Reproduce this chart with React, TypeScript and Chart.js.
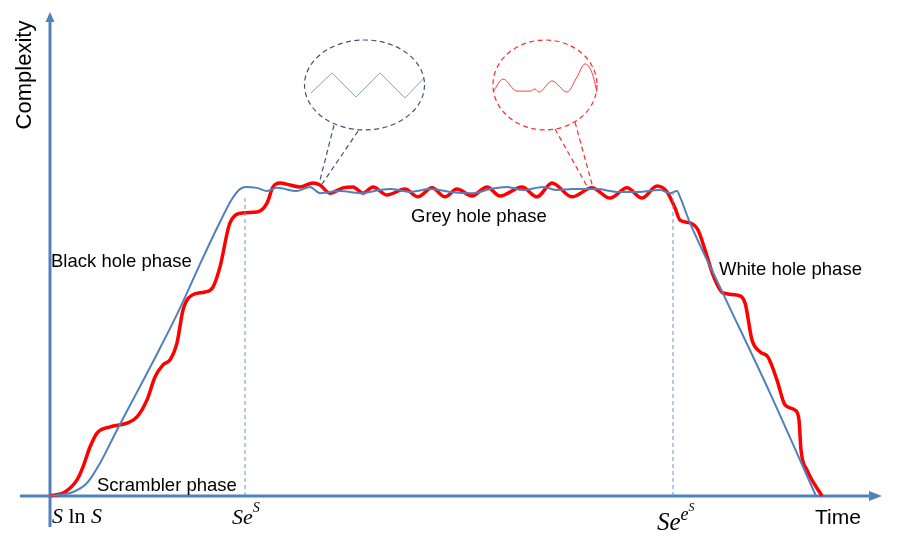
import { useEffect, useRef } from "react";
import { Chart, registerables } from "chart.js";

Chart.register(...registerables);

// ---- data (time units, complexity units) ----
const blueTime = [0, 2.3, 3.7, 5.0, 6.7, 8.7, 10.7, 13.0, 15.0, 17.0, 18.2, 19.0, 19.6, 20.7, 21.7, 22.7, 24.7, 26.0, 27.0, 29.0, 31.0, 33.0, 34.0, 36.0, 38.0, 40.0, 42.3, 44.0, 45.7, 47.3, 49.3, 50.7, 52.3, 54.7, 56.7, 58.7, 61.0, 62.0, 62.7, 63.0, 64.0, 67.0, 72.0, 76.6];
const blueComplexity = [0, 1.3, 4.2, 10.6, 21.3, 33.5, 45.8, 60.6, 74.8, 88.4, 95.8, 99.0, 99.7, 99.4, 98.4, 99.4, 98.4, 99.7, 97.7, 98.4, 97.7, 98.7, 99.0, 98.1, 99.0, 98.1, 97.7, 99.0, 99.7, 98.7, 99.7, 98.7, 99.0, 99.0, 98.1, 98.1, 98.7, 97.7, 98.4, 96.5, 88.1, 67.4, 33.2, 0];

const redTime = [0, 1.5, 2.7, 3.3, 4.0, 4.7, 6.0, 7.7, 8.7, 9.7, 10.5, 11.3, 12.0, 12.7, 13.3, 14.2, 15.5, 16.3, 17.0, 18.0, 19.3, 20.7, 21.7, 22.3, 23.0, 24.0, 25.0, 26.3, 27.0, 28.0, 29.3, 30.3, 31.3, 32.3, 33.7, 35.5, 36.8, 38.2, 39.5, 40.7, 42.2, 43.7, 45.0, 47.2, 48.7, 50.2, 52.2, 54.2, 56.0, 57.7, 59.2, 60.7, 61.7, 62.5, 63.0, 64.0, 64.8, 65.5, 66.3, 67.3, 68.7, 69.5, 70.2, 71.0, 71.8, 72.7, 73.5, 74.5, 74.9, 75.1, 75.7, 77.2];
const redComplexity = [0, 1.3, 5.2, 9.4, 15.8, 20.3, 22.3, 23.5, 25.5, 31.0, 38.4, 42.3, 43.9, 49.4, 60.0, 64.8, 65.8, 67.4, 73.9, 88.1, 91.3, 91.6, 94.5, 99.7, 101.0, 100.3, 99.7, 101.0, 100.3, 97.7, 99.4, 99.7, 97.7, 99.7, 97.1, 99.0, 96.5, 99.4, 96.5, 99.0, 96.8, 99.7, 96.8, 99.7, 96.5, 101.0, 96.5, 99.4, 96.1, 99.4, 96.1, 100.0, 98.1, 92.9, 89.0, 88.1, 85.8, 79.4, 71.3, 65.5, 64.8, 62.3, 50.3, 46.5, 44.8, 37.4, 29.4, 27.7, 24.5, 14.8, 8.4, 0];

const zigTime = [26.1, 28.2, 30.6, 33.0, 35.5, 37.4];
const zigComplexity = [130.0, 136.5, 128.7, 136.5, 128.4, 134.8];

const waveTime = [44.3, 45.3, 46.7, 48.0, 48.5, 48.9, 50.2, 51.7, 52.7, 53.5, 54.2, 54.7];
const waveComplexity = [130.3, 134.5, 130.6, 130.6, 131.3, 130.3, 133.9, 130.3, 135.2, 139.4, 136.5, 130.3];

const markTimes = [19.5, 62.3];
const markTops = [96.8, 97.7];

const phaseLabels = ["Black hole phase", "Scrambler phase", "Grey hole phase", "White hole phase"];
const axisTitles = ["Time", "Complexity"];

// ---- layout (anchors in data units) ----
const phaseAnchors = [
  [0.1, 75.5],
  [4.7, 3.2],
  [36.1, 90.0],
  [66.9, 72.9],
];

const pts = (xs: number[], ys: number[]) => xs.map((x, i) => ({ x, y: ys[i] }));

const AXIS = "#4F81BD";

const decor = {
  id: "decor",
  beforeDatasetsDraw(chart: any) {
    const { ctx } = chart;
    const sx = chart.scales.x;
    const sy = chart.scales.y;
    const X = (v: number) => sx.getPixelForValue(v);
    const Y = (v: number) => sy.getPixelForValue(v);
    ctx.save();
    ctx.strokeStyle = AXIS;
    ctx.fillStyle = AXIS;
    ctx.lineWidth = 3;
    // horizontal axis
    const y0 = Y(0);
    const tipX = X(83.2);
    ctx.beginPath();
    ctx.moveTo(X(-3), y0);
    ctx.lineTo(tipX - 10, y0);
    ctx.stroke();
    ctx.beginPath();
    ctx.moveTo(tipX, y0);
    ctx.lineTo(tipX - 13, y0 - 5);
    ctx.lineTo(tipX - 13, y0 + 5);
    ctx.closePath();
    ctx.fill();
    // vertical axis
    const x0 = X(0);
    const tipY = Y(156.1);
    ctx.beginPath();
    ctx.moveTo(x0, Y(-10));
    ctx.lineTo(x0, tipY + 7);
    ctx.stroke();
    ctx.beginPath();
    ctx.moveTo(x0, tipY);
    ctx.lineTo(x0 - 4.5, tipY + 10);
    ctx.lineTo(x0 + 4.5, tipY + 10);
    ctx.closePath();
    ctx.fill();
    ctx.restore();
  },
  afterDatasetsDraw(chart: any) {
    const { ctx } = chart;
    const sx = chart.scales.x;
    const sy = chart.scales.y;
    const X = (v: number) => sx.getPixelForValue(v);
    const Y = (v: number) => sy.getPixelForValue(v);
    ctx.save();
    // bubbles
    const bubble = (cx: number, cy: number, rxU: number, ryU: number, color: string, tail: number[][]) => {
      const px = X(cx), py = Y(cy);
      const rx = X(cx + rxU) - px;
      const ry = py - Y(cy + ryU);
      ctx.strokeStyle = color;
      ctx.lineWidth = 1.2;
      ctx.setLineDash([5, 3.5]);
      ctx.beginPath();
      ctx.ellipse(px, py, rx, ry, 0, 0, Math.PI * 2);
      ctx.stroke();
      for (const [a, b, c, d] of tail) {
        ctx.beginPath();
        ctx.moveTo(X(a), Y(b));
        ctx.lineTo(X(c), Y(d));
        ctx.stroke();
      }
      ctx.setLineDash([]);
    };
    bubble(31.45, 132.6, 6.0, 14.5, "#3E5479", [
      [28.4, 119.6, 26.9, 100.6],
      [30.8, 117.7, 27.2, 100.6],
    ]);
    bubble(49.5, 132.6, 5.2, 14.5, "#FF2A2A", [
      [50.5, 118.4, 53.8, 99.4],
      [52.5, 120.6, 54.3, 99.4],
    ]);

    // phase labels
    ctx.fillStyle = "#000";
    ctx.font = '18.5px "Liberation Sans", Arial, sans-serif';
    ctx.textBaseline = "middle";
    ctx.textAlign = "left";
    phaseLabels.forEach((t, i) => {
      ctx.fillText(t, X(phaseAnchors[i][0]), Y(phaseAnchors[i][1]));
    });
    // axis titles
    ctx.font = '21px "Liberation Sans", Arial, sans-serif';
    ctx.fillText(axisTitles[0], X(76.5), Y(-7.1));
    ctx.save();
    ctx.translate(X(-2.5), Y(135.8));
    ctx.rotate(-Math.PI / 2);
    ctx.textAlign = "center";
    ctx.font = '22px "Liberation Sans", Arial, sans-serif';
    ctx.fillText(axisTitles[1], 0, 0);
    ctx.restore();

    // math labels
    ctx.textBaseline = "alphabetic";
    ctx.textAlign = "left";
    const serif = (size: number, italic: boolean) =>
      `${italic ? "italic " : ""}${size}px "Liberation Serif", "Times New Roman", serif`;
    const run = (parts: [string, number, boolean, number][], x: number, y: number) => {
      let cx = x;
      for (const [txt, size, it, dy] of parts) {
        ctx.font = serif(size, it);
        ctx.fillText(txt, cx, y + dy);
        cx += ctx.measureText(txt).width;
      }
    };
    run([["S", 22, true, 0], [" ln ", 22, false, 0], ["S", 22, true, 0]], X(0.2), Y(-8.7));
    run([["Se", 22, true, 0], ["S", 14, true, -12]], X(18.2), Y(-9.0));
    run([["Se", 25, true, 0], ["e", 18, true, -10], ["S", 12, true, -19]], X(60.7), Y(-11.0));
    ctx.restore();
  },
};

export default function App() {
  const ref = useRef<HTMLCanvasElement | null>(null);
  useEffect(() => {
    document.body.style.margin = "0";
    if (!ref.current) return;
    const chart = new Chart(ref.current, {
      type: "line",
      data: {
        datasets: [
          {
            data: pts([markTimes[0], markTimes[0]], [0, markTops[0]]),
            borderColor: "#6A95CC",
            borderWidth: 1,
            borderDash: [4, 3],
            pointRadius: 0,
          },
          {
            data: pts([markTimes[1], markTimes[1]], [0, markTops[1]]),
            borderColor: "#6A95CC",
            borderWidth: 1,
            borderDash: [4, 3],
            pointRadius: 0,
          },
          {
            data: pts(blueTime, blueComplexity),
            borderColor: "#4F81BD",
            borderWidth: 2,
            pointRadius: 0,
            cubicInterpolationMode: "monotone",
          },
          {
            data: pts(redTime, redComplexity),
            borderColor: "#FF0000",
            borderWidth: 3.5,
            pointRadius: 0,
            cubicInterpolationMode: "monotone",
          },
          {
            data: pts(zigTime, zigComplexity),
            borderColor: "#7FA3D6",
            borderWidth: 1,
            pointRadius: 0,
            tension: 0,
          },
          {
            data: pts(waveTime, waveComplexity),
            borderColor: "#FF3B3B",
            borderWidth: 1,
            pointRadius: 0,
            cubicInterpolationMode: "monotone",
          },
        ],
      },
      options: {
        animation: false,
        responsive: false,
        maintainAspectRatio: false,
        layout: { padding: 0 },
        plugins: { legend: { display: false }, tooltip: { enabled: false } },
        datasets: { line: { clip: false } } as any,
        scales: {
          x: { type: "linear", min: -5, max: 84.9, display: false },
          y: { type: "linear", min: -13.55, max: 160, display: false },
        },
      },
      plugins: [decor],
    });
    return () => chart.destroy();
  }, []);
  return (
    <div style={{ width: 899, height: 538, background: "#fff" }}>
      <canvas ref={ref} width={899} height={538} style={{ display: "block" }} />
    </div>
  );
}
